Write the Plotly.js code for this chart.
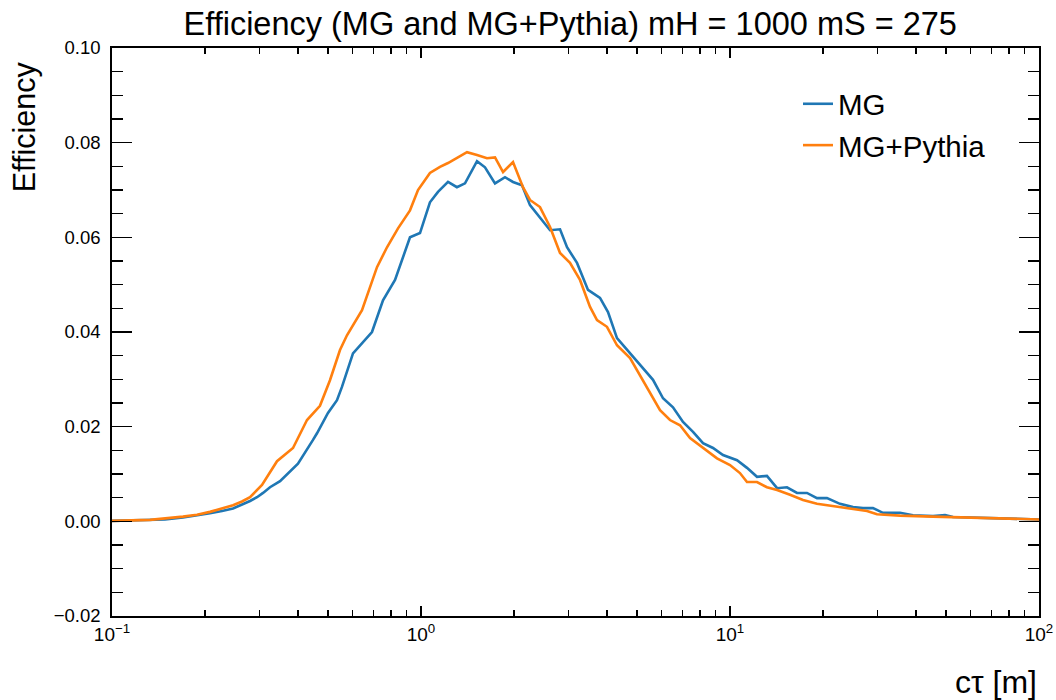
<!DOCTYPE html>
<html>
<head>
<meta charset="utf-8">
<script src="https://cdn.plot.ly/plotly-3.0.1.min.js"></script>
<style>html,body{margin:0;padding:0;background:#fff;}#chart{width:1056px;height:700px;}</style>
</head>
<body>
<div id="chart"></div>
<script>
// c*tau values [m] and efficiencies
const ctauMG = [0.1, 0.1232, 0.1484, 0.1697, 0.1884, 0.2075, 0.2270, 0.2464, 0.2797, 0.2947, 0.3082, 0.3246, 0.3498, 0.3998, 0.4472, 0.4607, 0.5000, 0.5347, 0.5549, 0.6024, 0.6940, 0.7534, 0.8240, 0.9213, 0.9926, 1.069, 1.135, 1.223, 1.307, 1.388, 1.518, 1.611, 1.736, 1.870, 1.985, 2.123, 2.253, 2.391, 2.616, 2.818, 2.969, 3.198, 3.471, 3.796, 4.029, 4.308, 4.748, 5.191, 5.634, 6.071, 6.539, 7.046, 7.592, 8.178, 8.810, 9.491, 10.54, 11.35, 12.23, 13.17, 14.20, 15.29, 16.48, 17.75, 19.12, 20.60, 22.70, 25.01, 26.94, 29.02, 31.27, 35.49, 39.11, 45.39, 49.64, 52.69, 58.48, 74.77, 100];
const effMG = [0.0001, 0.0002, 0.0004, 0.0008, 0.0012, 0.0017, 0.0022, 0.0027, 0.0043, 0.0051, 0.0060, 0.0072, 0.0085, 0.0122, 0.0172, 0.0186, 0.0229, 0.0256, 0.0284, 0.0355, 0.0400, 0.0467, 0.0510, 0.0600, 0.0609, 0.0674, 0.0696, 0.0717, 0.0706, 0.0714, 0.0761, 0.0748, 0.0714, 0.0727, 0.0717, 0.0710, 0.0668, 0.0647, 0.0615, 0.0617, 0.0579, 0.0546, 0.0489, 0.0472, 0.0442, 0.0387, 0.0355, 0.0324, 0.0299, 0.0260, 0.0241, 0.0210, 0.0189, 0.0165, 0.0155, 0.0140, 0.0129, 0.0113, 0.0094, 0.0096, 0.0070, 0.0072, 0.0060, 0.0060, 0.0049, 0.0049, 0.0037, 0.0030, 0.0028, 0.0028, 0.0018, 0.0018, 0.0013, 0.0011, 0.0013, 0.0009, 0.0008, 0.0006, 0.0004];

const ctauPy = [0.1, 0.1327, 0.1697, 0.1884, 0.2075, 0.2270, 0.2464, 0.2634, 0.2797, 0.3058, 0.3420, 0.3853, 0.4277, 0.4710, 0.5075, 0.5468, 0.5760, 0.6443, 0.6839, 0.7204, 0.7762, 0.8426, 0.9213, 0.9779, 1.069, 1.152, 1.223, 1.317, 1.409, 1.518, 1.635, 1.736, 1.843, 1.985, 2.138, 2.253, 2.427, 2.616, 2.818, 3.035, 3.270, 3.524, 3.712, 3.998, 4.308, 4.748, 5.114, 5.510, 5.937, 6.394, 6.890, 7.424, 8.178, 9.077, 10.0, 10.77, 11.35, 12.23, 13.17, 14.20, 15.64, 17.23, 19.12, 21.54, 24.45, 27.76, 29.90, 35.49, 45.39, 58.48, 100];
const effPy = [0.0001, 0.0003, 0.0010, 0.0014, 0.0020, 0.0027, 0.0034, 0.0042, 0.0051, 0.0077, 0.0127, 0.0155, 0.0214, 0.0244, 0.0298, 0.0362, 0.0393, 0.0446, 0.0495, 0.0537, 0.0579, 0.0619, 0.0657, 0.0700, 0.0736, 0.0749, 0.0757, 0.0769, 0.0780, 0.0774, 0.0767, 0.0769, 0.0738, 0.0759, 0.0706, 0.0679, 0.0664, 0.0622, 0.0567, 0.0546, 0.0510, 0.0453, 0.0425, 0.0411, 0.0372, 0.0345, 0.0309, 0.0271, 0.0235, 0.0214, 0.0203, 0.0176, 0.0155, 0.0133, 0.0119, 0.0102, 0.0083, 0.0083, 0.0072, 0.0066, 0.0056, 0.0045, 0.0037, 0.0032, 0.0026, 0.0022, 0.0015, 0.0012, 0.0010, 0.0008, 0.0004];

const xTickVals = [0.1, 1, 10, 100];
const xTickText = ['10<sup>\u22121</sup>', '10<sup>0</sup>', '10<sup>1</sup>', '10<sup>2</sup>'];
const seriesNames = ['MG', 'MG+Pythia'];
const titleText = 'Efficiency (MG and MG+Pythia) mH = 1000 mS = 275';
const yTitleText = 'Efficiency';
const xTitleText = 'c\u03c4 [m]';

const FONT = 'Liberation Sans, Arimo, Arial, sans-serif';

const traces = [
  {x: ctauMG, y: effMG, name: seriesNames[0], type: 'scatter', mode: 'lines',
   line: {color: '#1f77b4', width: 2.6}},
  {x: ctauPy, y: effPy, name: seriesNames[1], type: 'scatter', mode: 'lines',
   line: {color: '#ff7f0e', width: 2.6}}
];

const layout = {
  width: 1056, height: 700,
  margin: {l: 112, r: 17, t: 48, b: 84},
  paper_bgcolor: '#ffffff', plot_bgcolor: '#ffffff',
  font: {family: FONT, color: '#000000', size: 18},
  showlegend: true,
  title: {text: titleText, font: {family: FONT, size: 32.5, color: '#000'},
          x: 0.54, xref: 'container', xanchor: 'center', y: 0.966, yref: 'container', yanchor: 'middle'},
  xaxis: {
    type: 'log', range: [-1, 2],
    tickmode: 'array', tickvals: xTickVals, ticktext: xTickText,
    ticks: 'inside', ticklen: 10, tickwidth: 1.5, tickcolor: '#000',
    minor: {dtick: 'D1', ticks: 'inside', ticklen: 6, tickwidth: 1.2, tickcolor: '#000', showgrid: false},
    showline: true, linecolor: '#000', linewidth: 1.8, mirror: 'allticks',
    showgrid: false, zeroline: false,
    tickfont: {family: FONT, size: 19, color: '#000'}
  },
  yaxis: {
    range: [-0.02, 0.10], dtick: 0.02, tick0: 0, tickformat: '.2f',
    ticks: 'inside', ticklen: 20, tickwidth: 1.5, tickcolor: '#000',
    minor: {dtick: 0.005, ticks: 'inside', ticklen: 11, tickwidth: 1.2, tickcolor: '#000', showgrid: false},
    showline: true, linecolor: '#000', linewidth: 1.8, mirror: 'allticks',
    showgrid: false, zeroline: false,
    ticklabelstandoff: 6,
    tickfont: {family: FONT, size: 18.5, color: '#000'}
  },
  legend: {x: 0.74, y: 0.947, xanchor: 'left', yanchor: 'top',
           bgcolor: 'rgba(255,255,255,0)', borderwidth: 0,
           font: {family: FONT, size: 29.5, color: '#000'}},
  annotations: [
    {text: yTitleText, xref: 'paper', yref: 'paper', x: -0.095, y: 0.981,
     xanchor: 'center', yanchor: 'top', textangle: -90, showarrow: false,
     font: {family: FONT, size: 30.5, color: '#000'}},
    {text: xTitleText, xref: 'paper', yref: 'paper', x: 1.0, y: -0.116,
     xanchor: 'right', yanchor: 'middle', showarrow: false,
     font: {family: FONT, size: 32, color: '#000'}}
  ]
};

Plotly.newPlot('chart', traces, layout, {displayModeBar: false, staticPlot: true});
</script>
</body>
</html>
